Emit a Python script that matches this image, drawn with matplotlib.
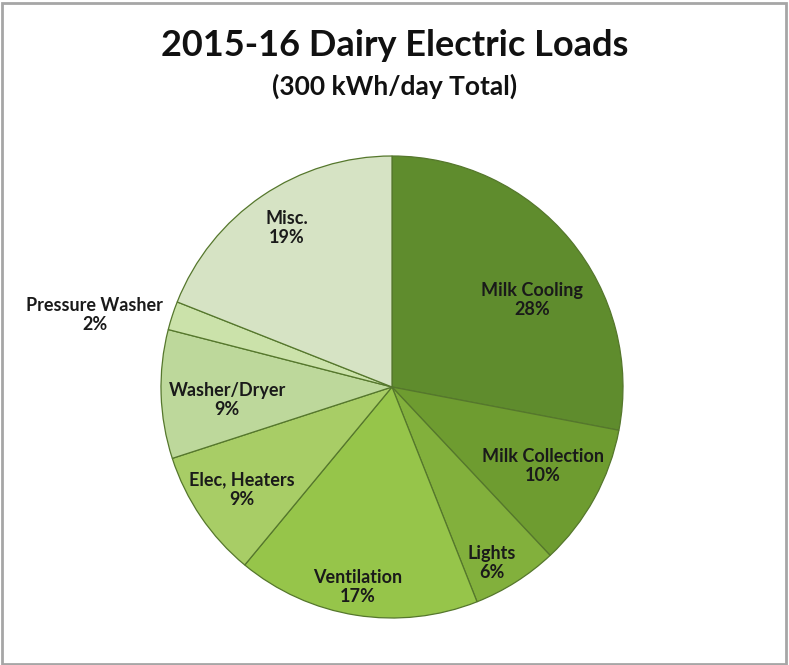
import matplotlib
matplotlib.use('Agg')
import matplotlib.pyplot as plt
from matplotlib.patches import Rectangle

# data
categories = ['Milk Cooling', 'Milk Collection', 'Lights', 'Ventilation',
              'Elec, Heaters', 'Washer/Dryer', 'Pressure Washer', 'Misc.']
shares = [28, 10, 6, 17, 9, 9, 2, 19]

colors = ['#5f8c2d', '#6e9c30', '#82b03c', '#96c54a',
          '#a8cd66', '#bdd89b', '#cbe2aa', '#d6e3c4']

# label centres in pie units (radius = 1)
label_xy = [(0.606, 0.377), (0.654, -0.342), (0.433, -0.762), (-0.147, -0.866),
            (-0.649, -0.446), (-0.714, -0.056), (-1.286, 0.312), (-0.455, 0.688)]

plt.rcParams['font.family'] = ['Lato', 'DejaVu Sans']

fig = plt.figure(figsize=(7.89, 6.65), dpi=100)
ax = fig.add_axes([0, 0, 1, 1])

ax.pie(shares, colors=colors, startangle=90, counterclock=False,
       wedgeprops=dict(edgecolor='#55772c', linewidth=0.9))

for name, val, (x, y) in zip(categories, shares, label_xy):
    ax.text(x, y, '%s\n%d%%' % (name, val), ha='center', va='center',
            fontsize=13, fontweight='bold', color='#1a1a1a', linespacing=1.2)

# pie centre at pixel (392, 387), radius 231 px
r = 231.0
ax.set_aspect('auto')
ax.set_xlim(-392 / r, (789 - 392) / r)
ax.set_ylim(-(665 - 387) / r, 387 / r)
ax.axis('off')

fig.text(0.5, 1 - 45 / 665, '2015-16 Dairy Electric Loads', ha='center', va='center',
         fontsize=26, fontweight='bold', color='#111111')
fig.text(0.5, 1 - 86 / 665, '(300 kWh/day Total)', ha='center', va='center',
         fontsize=19, fontweight='bold', color='#111111')

fig.patches.append(Rectangle((0.002, 0.002), 0.994, 0.994, transform=fig.transFigure,
                             fill=False, edgecolor='#a6a6a6', linewidth=2))

fig.savefig('out.png', dpi=100)
